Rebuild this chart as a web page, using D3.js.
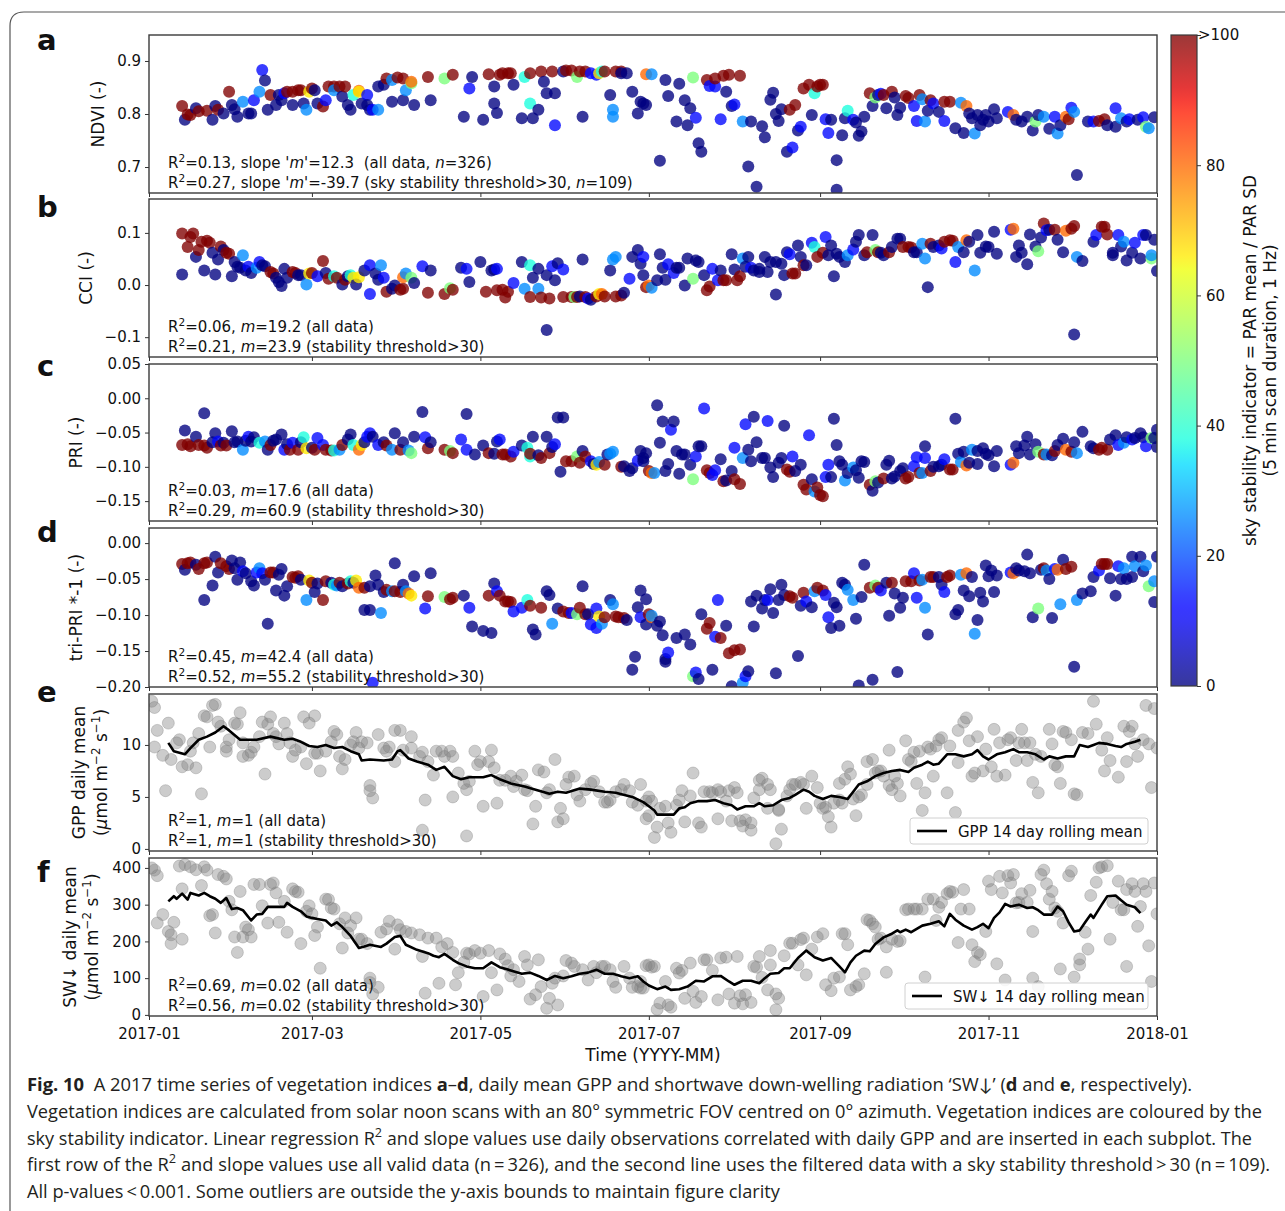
<!DOCTYPE html>
<html>
<head>
<meta charset="utf-8">
<script src="https://cdn.jsdelivr.net/npm/d3@7"></script>
<style>
body { margin: 0; background: #fff; }
text { font-family: "DejaVu Sans", sans-serif; fill: #111; }
.pre { white-space: pre; }
</style>
</head>
<body>
<svg id="fig" width="1285" height="1211"></svg>
<script>
// sky stability classes
var N = 0, B = 13, LB = 26, C = 38, G = 50, Y = 66, O = 80, R = 100;

// [day of 2017, value, sky stability]
var ndvi = [[12,.815,R],[13,.789,N],[14,.799,R],[15,.798,R],[17,.811,N],[18,.805,R],[21,.806,R],[23,.789,N],[24,.815,N],[25,.808,R],[27,.801,N],[29,.842,R],[30,.817,N],[31,.809,N],[32,.795,N],[34,.823,LB],[36,.801,N],[37,.801,N],[38,.826,B],[40,.842,LB],[41,.883,B],[42,.863,N],[43,.808,N],[44,.836,R],[46,.817,N],[47,.836,N],[48,.826,N],[49,.839,B],[50,.842,R],[52,.817,N],[52,.842,R],[54,.845,R],[55,.845,R],[56,.82,N],[57,.808,LB],[58,.842,Y],[59,.848,R],[60,.845,N],[61,.82,N],[63,.814,R],[64,.826,B],[65,.852,R],[67,.852,R],[67,.845,LB],[69,.852,R],[70,.833,N],[71,.852,R],[72,.817,N],[73,.808,N],[74,.836,C],[76,.844,O],[76,.842,Y],[77,.82,N],[79,.836,B],[79,.817,N],[80,.808,N],[81,.808,B],[83,.808,LB],[83,.852,N],[85,.855,N],[86,.867,R],[88,.864,LB],[88,.823,N],[90,.869,R],[92,.867,R],[92,.826,N],[93,.845,LB],[95,.858,G],[95,.861,O],[96,.817,N],[101,.870,R],[102,.826,N],[107,.867,G],[110,.874,R],[114,.795,N],[116,.848,B],[117,.870,N],[121,.789,N],[123,.875,R],[125,.852,N],[125,.82,N],[126,.802,N],[127,.874,R],[128,.877,R],[130,.877,R],[131,.877,R],[132,.855,N],[135,.792,N],[136,.870,C],[138,.82,C],[138,.877,R],[139,.792,N],[141,.808,N],[142,.88,R],[143,.861,N],[144,.839,N],[146,.88,R],[147,.779,B],[147,.839,N],[150,.88,N],[151,.882,R],[153,.882,R],[155,.870,G],[156,.88,R],[157,.795,N],[158,.88,R],[160,.877,B],[162,.874,B],[163,.877,Y],[164,.88,C],[165,.88,R],[167,.836,N],[168,.808,LB],[168,.795,LB],[169,.88,R],[171,.88,R],[171,.877,N],[173,.877,N],[175,.842,N],[177,.801,N],[178,.823,N],[179,.82,N],[180,.817,N],[180,.875,O],[182,.875,LB],[185,.712,N],[187,.864,N],[188,.834,N],[191,.786,N],[192,.857,N],[194,.826,N],[195,.779,N],[196,.811,N],[197,.869,G],[198,.793,B],[199,.745,N],[200,.729,N],[202,.864,R],[203,.853,B],[205,.852,B],[205,.867,R],[207,.79,B],[208,.872,R],[209,.842,N],[210,.874,R],[211,.815,N],[212,.818,B],[214,.872,R],[215,.786,LB],[217,.701,N],[218,.786,N],[220,.663,N],[222,.777,N],[223,.756,N],[225,.827,N],[226,.84,N],[227,.8,N],[228,.787,N],[229,.809,N],[231,.729,N],[233,.737,B],[232,.808,R],[234,.817,R],[235,.769,N],[236,.776,B],[237,.848,R],[239,.855,R],[240,.798,N],[241,.839,C],[242,.852,R],[243,.855,R],[244,.855,R],[245,.79,B],[246,.764,B],[247,.789,N],[249,.713,N],[249,.657,N],[251,.76,N],[252,.792,N],[253,.806,C],[255,.789,B],[256,.784,N],[257,.759,N],[258,.767,N],[259,.795,N],[261,.839,R],[262,.815,N],[263,.831,G],[264,.836,N],[265,.838,B],[266,.836,R],[267,.811,N],[269,.842,R],[270,.831,N],[271,.798,N],[272,.812,N],[274,.834,R],[275,.83,R],[277,.815,B],[278,.787,B],[279,.836,R],[280,.828,LB],[281,.786,LB],[282,.806,N],[283,.826,R],[284,.82,B],[286,.804,N],[288,.787,B],[288,.823,R],[290,.823,R],[292,.773,N],[294,.821,LB],[295,.764,N],[296,.815,O],[297,.801,N],[298,.792,N],[299,.763,LB],[300,.798,N],[301,.779,N],[302,.789,N],[303,.798,N],[304,.786,N],[306,.809,N],[307,.792,N],[311,.804,B],[313,.798,O],[314,.789,N],[316,.786,N],[318,.795,N],[320,.769,N],[321,.786,G],[322,.798,N],[324,.795,LB],[326,.772,N],[328,.795,B],[329,.763,LB],[330,.779,N],[332,.795,O],[333,.79,R],[334,.812,B],[335,.804,LB],[336,.685,N],[340,.786,N],[342,.786,B],[344,.787,R],[346,.79,R],[347,.779,N],[350,.776,N],[350,.811,B],[352,.792,LB],[354,.786,N],[355,.79,B],[358,.789,N],[360,.794,B],[361,.776,G],[362,.773,LB],[364,.794,N]];

var cci = [[12,.099,R],[12,.02,N],[14,.073,R],[15,.092,R],[16,.099,R],[17,.054,N],[18,.067,R],[19,.083,R],[20,.028,N],[21,.085,R],[22,.081,R],[23,.062,N],[24,.02,N],[25,.049,N],[26,.074,R],[27,.067,N],[28,.062,R],[29,.06,R],[30,.017,N],[31,.044,N],[32,.035,N],[33,.033,N],[34,.057,LB],[35,.028,N],[36,.035,B],[37,.023,N],[39,.033,LB],[40,.044,B],[41,.038,N],[42,.036,N],[44,.025,R],[45,.022,R],[46,.014,N],[47,.006,N],[48,-.002,N],[49,.031,N],[50,.014,N],[52,.025,R],[53,.023,R],[54,.019,N],[55,.019,N],[57,.001,LB],[58,.022,Y],[59,.023,R],[61,.017,B],[63,.046,R],[64,.023,N],[65,.012,R],[67,.017,C],[68,.014,R],[70,.001,N],[71,.01,R],[72,.017,N],[73,.019,C],[74,.014,Y],[75,.001,N],[76,.015,Y],[78,.028,N],[80,-.017,B],[80,.038,B],[82,.022,N],[83,.01,N],[84,.038,LB],[85,.014,B],[86,-.013,R],[88,-.007,N],[89,-.001,N],[91,-.009,R],[92,-.007,R],[92,.015,O],[93,.022,LB],[95,.014,G],[96,.004,N],[99,.036,B],[101,-.015,R],[102,.028,N],[107,-.017,R],[109,-.006,G],[110,-.009,R],[113,.033,N],[115,.031,B],[116,.006,N],[120,.044,N],[122,-.013,R],[124,.028,N],[125,.03,N],[126,.031,B],[126,-.01,R],[128,-.009,R],[129,-.024,R],[130,-.013,R],[132,.004,B],[135,.044,N],[136,-.007,LB],[138,.038,C],[138,-.023,R],[139,.014,N],[141,.031,N],[141,-.007,LB],[142,-.024,R],[144,-.086,N],[144,.019,N],[145,-.026,R],[146,.036,B],[147,.009,N],[148,.042,N],[150,.03,B],[150,-.023,R],[153,-.023,R],[154,-.023,G],[155,-.023,R],[156,-.022,N],[157,.049,N],[158,-.023,R],[159,-.026,B],[160,-.028,N],[162,-.022,R],[163,-.017,Y],[164,-.017,O],[165,-.022,R],[167,.028,N],[168,.049,LB],[169,.054,LB],[169,-.022,R],[171,-.02,R],[172,-.015,N],[174,.012,B],[175,.054,N],[177,.067,N],[178,.041,N],[179,.054,B],[179,.019,N],[180,-.004,R],[181,-.001,O],[182,-.005,LB],[184,.009,N],[185,.059,N],[186,.033,N],[187,.01,N],[188,.04,B],[190,.023,B],[191,.033,N],[192,.033,N],[194,-.001,N],[195,.051,N],[197,.012,G],[198,.047,N],[199,.044,N],[201,.019,N],[202,-.01,R],[203,-.003,R],[204,.031,B],[206,.009,B],[207,.028,N],[208,.009,R],[209,.009,R],[211,.059,N],[212,.03,N],[213,.009,R],[214,.017,R],[215,.051,LB],[216,.035,N],[217,.054,N],[218,.033,B],[219,.028,N],[221,.031,N],[221,.025,N],[223,.054,N],[224,.025,N],[225,.044,N],[227,-.018,N],[227,.044,N],[229,.041,N],[230,.019,N],[231,.063,N],[232,.059,B],[233,.022,R],[234,.022,R],[235,.076,N],[236,.054,N],[237,.038,R],[238,.038,N],[240,.081,B],[241,.073,C],[242,.054,R],[244,.062,R],[245,.092,B],[246,.057,N],[247,.076,N],[248,.017,N],[249,.06,N],[250,.054,N],[252,.044,N],[253,.057,LB],[255,.068,B],[256,.083,N],[257,.096,N],[259,.057,N],[260,.063,R],[262,.096,N],[263,.067,G],[264,.063,R],[265,.062,N],[266,.057,N],[268,.063,R],[269,.073,N],[271,.089,N],[272,.089,N],[273,.073,R],[275,.073,R],[276,.072,R],[277,.063,N],[278,.063,N],[280,.079,LB],[281,.051,LB],[282,-.004,N],[283,.079,R],[284,.073,N],[286,.076,N],[287,.07,B],[288,.083,R],[290,.086,R],[291,.085,R],[292,.044,B],[293,.073,LB],[295,.063,N],[296,.086,O],[297,.083,N],[299,.028,LB],[300,.096,N],[301,.062,N],[303,.074,N],[304,.073,N],[306,.102,N],[307,.06,N],[312,.106,B],[313,.108,O],[314,.054,N],[315,.076,N],[316,.062,N],[318,.04,N],[319,.097,N],[321,.074,N],[322,.065,G],[323,.091,N],[324,.118,R],[325,.105,B],[326,.106,N],[328,.106,R],[329,.087,N],[331,.063,N],[332,.104,O],[334,.108,R],[335,.113,R],[335,-.095,N],[336,.054,LB],[338,.046,N],[342,.083,N],[343,.096,B],[345,.112,R],[346,.112,R],[347,.097,R],[349,.057,N],[349,.062,N],[351,.096,B],[352,.074,N],[353,.083,LB],[354,.047,N],[356,.062,N],[357,.081,B],[359,.051,N],[360,.096,B],[361,.096,N],[363,.051,G],[363,.057,LB],[364,.087,N],[365,.027,N]];

var pri = [[12,-.068,R],[13,-.047,N],[14,-.067,R],[15,-.07,R],[17,-.056,N],[18,-.068,R],[20,-.022,N],[20,-.069,R],[21,-.072,R],[23,-.064,N],[24,-.051,N],[25,-.063,B],[26,-.069,R],[27,-.065,N],[28,-.069,R],[30,-.048,N],[31,-.064,N],[32,-.063,N],[34,-.075,LB],[35,-.062,N],[36,-.056,B],[37,-.063,N],[38,-.057,N],[40,-.065,C],[42,-.063,LB],[43,-.075,N],[44,-.068,R],[45,-.062,N],[46,-.06,N],[48,-.053,N],[49,-.075,B],[50,-.067,N],[51,-.075,R],[52,-.065,B],[54,-.075,R],[55,-.064,N],[56,-.057,C],[57,-.073,Y],[59,-.072,N],[60,-.075,R],[61,-.058,B],[63,-.068,B],[64,-.075,R],[66,-.076,R],[67,-.076,C],[69,-.075,LB],[70,-.068,R],[72,-.06,N],[73,-.053,N],[74,-.068,C],[76,-.075,O],[77,-.068,Y],[78,-.064,N],[79,-.056,B],[80,-.051,B],[81,-.056,N],[83,-.068,B],[85,-.064,N],[86,-.069,R],[88,-.075,LB],[89,-.051,N],[91,-.075,R],[92,-.064,N],[94,-.076,LB],[95,-.08,G],[96,-.056,N],[99,-.02,N],[100,-.057,B],[101,-.073,R],[102,-.064,N],[107,-.075,R],[109,-.077,G],[110,-.08,R],[113,-.06,B],[115,-.023,N],[115,-.075,B],[118,-.082,N],[121,-.069,N],[123,-.08,R],[125,-.081,N],[126,-.063,N],[127,-.06,B],[128,-.082,R],[129,-.082,R],[131,-.085,R],[132,-.078,B],[135,-.069,N],[137,-.072,C],[138,-.085,C],[138,-.081,R],[139,-.056,N],[141,-.083,N],[142,-.087,R],[144,-.056,N],[145,-.08,R],[146,-.071,N],[147,-.067,B],[148,-.028,N],[149,-.107,N],[150,-.028,N],[151,-.092,R],[153,-.092,R],[155,-.085,G],[156,-.094,R],[157,-.077,N],[158,-.085,R],[160,-.092,B],[161,-.096,N],[162,-.097,Y],[163,-.093,LB],[165,-.097,R],[166,-.082,N],[167,-.081,LB],[168,-.078,LB],[171,-.1,R],[172,-.099,N],[174,-.106,N],[175,-.102,N],[177,-.091,B],[178,-.077,N],[179,-.087,N],[179,-.092,N],[180,-.08,N],[181,-.106,R],[182,-.109,O],[183,-.109,LB],[184,-.01,N],[185,-.065,N],[186,-.034,N],[187,-.106,N],[188,-.096,N],[189,-.046,B],[190,-.034,N],[191,-.077,N],[192,-.11,N],[193,-.082,N],[194,-.082,N],[196,-.097,N],[197,-.118,G],[198,-.085,B],[199,-.07,N],[200,-.07,N],[201,-.015,B],[202,-.105,R],[203,-.109,R],[204,-.112,B],[205,-.105,B],[207,-.089,N],[208,-.121,R],[209,-.12,N],[211,-.106,N],[212,-.118,R],[212,-.072,B],[214,-.125,R],[215,-.087,LB],[216,-.038,B],[217,-.075,N],[218,-.092,N],[219,-.027,N],[220,-.064,N],[222,-.087,N],[223,-.087,N],[224,-.033,B],[225,-.101,N],[226,-.115,N],[228,-.094,N],[229,-.087,N],[230,-.04,N],[231,-.104,R],[232,-.107,R],[233,-.085,B],[234,-.106,N],[236,-.097,N],[237,-.126,R],[238,-.133,R],[239,-.054,B],[240,-.118,N],[241,-.136,LB],[242,-.13,R],[243,-.141,R],[244,-.143,R],[245,-.115,B],[246,-.097,B],[247,-.115,N],[248,-.03,N],[249,-.068,N],[250,-.092,N],[251,-.097,N],[252,-.12,LB],[253,-.109,N],[255,-.101,LB],[256,-.105,N],[257,-.116,N],[258,-.092,N],[259,-.093,N],[261,-.126,R],[262,-.135,N],[263,-.121,G],[264,-.123,N],[266,-.117,R],[267,-.097,N],[268,-.091,N],[269,-.117,N],[270,-.114,N],[272,-.106,N],[273,-.102,N],[274,-.117,R],[275,-.115,R],[277,-.099,B],[278,-.086,B],[279,-.109,R],[280,-.109,LB],[281,-.07,N],[281,-.087,B],[283,-.106,R],[284,-.1,N],[286,-.099,N],[287,-.097,N],[288,-.089,B],[290,-.104,R],[291,-.104,R],[292,-.03,N],[293,-.081,N],[294,-.093,LB],[295,-.078,N],[296,-.098,O],[297,-.094,N],[298,-.075,LB],[300,-.077,N],[300,-.096,N],[302,-.073,N],[303,-.081,N],[304,-.083,N],[306,-.099,N],[307,-.077,N],[312,-.097,B],[313,-.094,O],[314,-.07,N],[315,-.08,N],[317,-.069,N],[318,-.056,N],[319,-.082,N],[321,-.067,N],[322,-.078,G],[324,-.082,R],[325,-.082,LB],[327,-.083,N],[328,-.077,R],[329,-.068,N],[331,-.059,N],[332,-.075,O],[334,-.078,R],[335,-.064,N],[336,-.08,LB],[338,-.049,N],[341,-.07,N],[342,-.073,N],[344,-.075,R],[345,-.072,R],[347,-.075,R],[348,-.06,N],[350,-.054,N],[351,-.068,B],[353,-.065,LB],[354,-.057,N],[356,-.06,B],[357,-.058,N],[359,-.051,N],[360,-.057,N],[361,-.07,B],[363,-.058,G],[364,-.058,N],[365,-.071,N],[365,-.046,N]];

var triPri = [[12,-.029,R],[13,-.037,N],[14,-.028,R],[15,-.027,R],[17,-.03,N],[18,-.036,R],[20,-.079,N],[20,-.028,R],[21,-.027,R],[23,-.059,N],[24,-.019,N],[25,-.041,N],[26,-.028,R],[28,-.032,R],[29,-.036,R],[30,-.024,N],[31,-.035,N],[32,-.051,N],[33,-.027,N],[34,-.039,B],[35,-.042,N],[37,-.053,N],[38,-.059,N],[39,-.041,B],[40,-.035,LB],[41,-.042,B],[42,-.051,N],[43,-.112,N],[44,-.041,R],[45,-.041,R],[46,-.066,N],[47,-.044,N],[48,-.036,N],[49,-.073,N],[50,-.06,N],[52,-.047,R],[53,-.048,R],[54,-.046,R],[55,-.051,N],[57,-.079,LB],[58,-.052,Y],[59,-.055,R],[60,-.068,N],[61,-.056,N],[63,-.079,R],[64,-.053,R],[66,-.055,N],[67,-.058,C],[68,-.059,LB],[69,-.055,R],[70,-.06,N],[72,-.056,R],[73,-.053,C],[74,-.055,N],[75,-.052,Y],[76,-.062,O],[78,-.062,R],[78,-.093,N],[80,-.06,N],[80,-.093,N],[81,-.194,B],[82,-.045,N],[83,-.058,N],[84,-.097,LB],[85,-.068,N],[86,-.065,R],[88,-.067,LB],[89,-.028,N],[89,-.067,R],[91,-.068,R],[92,-.058,N],[93,-.067,LB],[94,-.07,O],[95,-.073,Y],[96,-.046,N],[100,-.091,B],[101,-.074,R],[102,-.042,N],[107,-.075,G],[109,-.078,R],[110,-.076,R],[114,-.073,N],[116,-.09,B],[117,-.116,N],[121,-.122,N],[123,-.073,R],[124,-.125,N],[125,-.056,N],[126,-.067,B],[127,-.073,R],[129,-.081,R],[130,-.081,R],[131,-.082,R],[132,-.095,B],[135,-.09,B],[137,-.079,C],[138,-.087,R],[139,-.12,N],[140,-.127,N],[142,-.09,R],[144,-.067,N],[145,-.072,N],[146,-.112,LB],[148,-.091,N],[150,-.095,R],[152,-.097,R],[153,-.097,B],[155,-.099,G],[156,-.09,R],[157,-.06,N],[158,-.099,R],[159,-.099,N],[160,-.113,B],[162,-.091,B],[162,-.118,B],[163,-.102,Y],[164,-.112,LB],[165,-.103,R],[167,-.079,N],[168,-.085,LB],[169,-.102,R],[170,-.103,R],[172,-.104,R],[173,-.107,N],[175,-.176,N],[176,-.158,N],[177,-.089,N],[178,-.066,N],[178,-.103,B],[180,-.113,N],[180,-.078,N],[181,-.099,R],[182,-.103,O],[182,-.101,LB],[184,-.115,N],[185,-.109,N],[186,-.128,N],[187,-.165,N],[187,-.161,N],[188,-.152,B],[191,-.132,N],[194,-.127,N],[196,-.141,N],[197,-.185,G],[198,-.18,B],[199,-.189,N],[200,-.099,N],[202,-.119,R],[203,-.111,R],[204,-.176,N],[205,-.13,B],[206,-.079,B],[207,-.132,R],[209,-.115,N],[210,-.153,R],[211,-.199,N],[212,-.149,R],[214,-.148,R],[215,-.194,LB],[216,-.185,B],[217,-.178,N],[218,-.081,N],[219,-.116,N],[220,-.073,N],[222,-.091,N],[223,-.079,N],[224,-.079,B],[225,-.064,N],[226,-.097,N],[227,-.181,N],[228,-.079,N],[229,-.058,N],[230,-.072,N],[232,-.074,R],[233,-.076,R],[235,-.157,N],[236,-.087,N],[237,-.069,R],[238,-.081,B],[240,-.089,N],[241,-.067,LB],[242,-.062,R],[244,-.066,R],[245,-.072,B],[246,-.103,B],[247,-.118,N],[248,-.083,N],[249,-.089,N],[250,-.115,N],[251,-.055,N],[252,-.058,N],[253,-.065,LB],[255,-.079,LB],[256,-.105,N],[257,-.198,N],[258,-.075,N],[259,-.03,N],[261,-.062,R],[262,-.19,N],[263,-.059,G],[264,-.062,R],[265,-.066,B],[267,-.055,N],[268,-.101,N],[269,-.055,R],[270,-.07,N],[271,-.179,N],[272,-.09,N],[273,-.076,N],[274,-.053,R],[276,-.053,R],[277,-.042,B],[278,-.076,B],[279,-.052,R],[280,-.051,LB],[281,-.09,LB],[282,-.127,N],[283,-.047,R],[284,-.047,R],[286,-.047,N],[287,-.058,N],[288,-.068,B],[289,-.047,R],[290,-.045,R],[292,-.099,N],[293,-.093,N],[294,-.044,LB],[295,-.066,N],[296,-.042,O],[297,-.074,N],[298,-.047,N],[299,-.126,LB],[300,-.107,N],[301,-.069,N],[302,-.081,N],[303,-.031,N],[304,-.046,N],[305,-.038,N],[306,-.068,N],[307,-.045,N],[312,-.041,B],[313,-.042,O],[314,-.035,N],[315,-.038,N],[317,-.039,N],[318,-.016,N],[319,-.042,N],[320,-.103,N],[322,-.091,G],[323,-.037,N],[324,-.035,R],[325,-.038,LB],[326,-.05,N],[327,-.104,N],[328,-.036,B],[329,-.037,O],[330,-.085,LB],[331,-.023,N],[332,-.036,R],[334,-.033,R],[335,-.172,N],[336,-.079,LB],[338,-.07,N],[341,-.067,N],[342,-.047,N],[344,-.038,B],[345,-.029,R],[346,-.029,R],[347,-.029,R],[348,-.049,N],[350,-.073,N],[351,-.032,B],[352,-.05,N],[353,-.035,LB],[354,-.05,N],[356,-.047,N],[356,-.019,N],[357,-.032,LB],[359,-.019,N],[360,-.039,N],[361,-.031,LB],[362,-.06,G],[364,-.053,LB],[364,-.082,N],[365,-.019,N]];

// [day, daily mean]
var gpp = [[1,14.2],[2,13.6],[3,11.4],[2,9.8],[5,9.0],[7,12.1],[8,8.6],[6,5.6],[10,10.2],[11,10.5],[12,7.9],[14,8.1],[15,9.4],[16,10.2],[17,7.8],[18,11.1],[19,5.3],[20,12.8],[21,12.7],[22,9.8],[23,13.8],[24,13.9],[25,12.2],[26,11.8],[28,9.8],[28,9.4],[29,10.5],[31,12.1],[32,12],[33,13.1],[34,10.2],[34,8.9],[36,9],[37,9.3],[38,9.8],[40,10.8],[41,12.2],[42,7.2],[43,12],[44,12.7],[45,11.1],[46,10.8],[47,10.1],[49,12.1],[50,11.1],[51,10.2],[52,8.9],[53,9.5],[55,9.8],[56,12.7],[57,8.2],[58,12.1],[60,12.8],[60,9.2],[61,9.2],[62,7.5],[64,9.4],[66,10.3],[67,11.3],[68,11],[69,8.9],[70,7.7],[71,8.6],[73,10],[74,10.3],[75,11.2],[76,9.7],[77,10.3],[79,10.2],[80,5.6],[80,6.1],[81,4.9],[83,11],[85,9.7],[86,9.4],[87,9.8],[89,8.4],[89,11.4],[91,11.4],[92,9.5],[95,10.8],[95,9.7],[98,8.9],[99,9.3],[99,1.8],[100,4.7],[101,8.4],[103,7.1],[104,9.4],[106,9.4],[107,8.9],[109,9.4],[110,5],[110,8.9],[112,7.3],[114,6.3],[115,5.7],[115,1.25],[116,6.5],[118,9.4],[119,8.1],[120,8.4],[121,4.1],[123,8.4],[124,9.5],[125,7.8],[126,4.4],[127,6.6],[129,6.6],[131,7],[132,6],[133,6.5],[135,7.1],[136,5.7],[137,5.6],[139,2.4],[140,4.1],[141,7.6],[143,7.4],[144,5.4],[145,5.7],[147,8.6],[148,2.6],[149,3.9],[150,2.9],[151,6.2],[152,6.9],[154,7],[155,5.2],[156,4.6],[158,5.7],[160,6.3],[161,6.5],[163,5.5],[165,4.5],[166,4.5],[167,4.7],[169,5.5],[171,5.7],[172,6.2],[174,5.6],[175,4.5],[177,4.2],[178,6.2],[180,4.6],[181,3.2],[181,5],[180,2.9],[182,4.6],[183,1.1],[184,2.1],[185,3.9],[187,4.1],[188,2.5],[189,1.6],[191,4.2],[192,4.7],[193,5.6],[194,2.6],[196,5.1],[197,7.3],[199,2.5],[200,2.1],[201,5.5],[203,5.5],[204,5.4],[206,5.7],[206,2.9],[207,5.5],[209,4.6],[210,5.6],[211,2.7],[212,5.9],[213,5.4],[214,2.7],[215,2.2],[216,2.8],[218,2.5],[218,1.8],[219,4.9],[221,5.7],[221,6.6],[222,6.8],[224,3.9],[224,6.2],[225,5.7],[227,0.5],[228,3.7],[228,3.8],[229,1.9],[231,5.1],[232,5.7],[233,6.2],[234,6.2],[236,6.4],[237,6.2],[238,3.9],[240,7],[242,5.9],[243,4.4],[244,3.9],[245,4],[246,3.1],[247,2.1],[248,4.4],[250,4.7],[250,6.3],[251,4.4],[252,6.7],[253,7.9],[254,7.2],[255,4.8],[256,3.2],[257,5],[258,5.2],[260,6.2],[260,8.4],[262,8.6],[263,7.3],[264,7.5],[265,7.5],[266,7],[268,6.1],[268,9.5],[269,5.7],[270,7],[271,6.3],[272,5.1],[274,10.4],[275,8.6],[276,8.4],[277,9.3],[278,6.3],[279,9.4],[280,3.7],[281,5.4],[282,9.8],[283,9.6],[284,7],[285,9.9],[286,10.5],[287,10.7],[289,5.4],[290,9.9],[292,3.5],[293,8.3],[293,11.4],[295,12.2],[296,12.6],[297,10.4],[298,7],[299,7.3],[300,10.8],[302,7.5],[303,9.6],[305,7.9],[306,11.5],[307,7],[308,10.2],[310,7.1],[311,10.5],[312,10.7],[314,8.5],[315,10.2],[316,11.5],[317,10.2],[318,8.5],[319,10.2],[320,6.4],[321,9.1],[322,5.4],[323,8.9],[326,11.5],[327,10.1],[328,8.1],[329,7.9],[330,6.3],[331,11.3],[332,11.2],[334,10.5],[335,5.3],[336,5.2],[338,11.2],[340,11.1],[342,14.2],[343,12],[345,9.5],[346,7.5],[347,10.7],[348,8.5],[351,6.9],[353,11.8],[354,8.4],[355,11.3],[356,11.8],[357,10.1],[358,8.9],[360,10.5],[361,13.8],[362,10.1],[363,5.9],[364,13.5],[365,9.7]];

var gppMean = [[7,10.2],[9,9.4],[13,9.1],[15,9.7],[18,10.5],[21,10.8],[24,11.2],[27,11.8],[29,11.4],[33,10.5],[36,10.5],[39,10.5],[44,10.8],[49,10.5],[52,10.6],[55,10.3],[58,9.9],[61,9.8],[64,10],[67,9.7],[70,9.8],[73,9.4],[76,9.1],[77,8.5],[80,8.6],[85,8.5],[88,8.6],[90,9.4],[91,9.5],[94,8.7],[97,8.4],[101,8.1],[104,7.6],[107,7.9],[110,7],[113,6.7],[116,6.9],[121,6.9],[124,7.1],[127,6.7],[131,6.3],[136,6],[140,5.7],[145,5.3],[148,5.5],[151,5.4],[156,5.8],[160,5.7],[165,5.5],[169,5.4],[175,5],[179,4.5],[181,4.1],[183,3.7],[184,3.3],[187,3.3],[190,3.3],[192,3.9],[194,4],[196,4.4],[199,4.6],[202,4.6],[205,4.7],[208,4.4],[211,4.2],[213,3.8],[216,4.1],[219,4.1],[221,4.4],[223,4.1],[226,4.2],[229,4.7],[232,4.9],[234,5.2],[237,5.7],[239,5.5],[241,5.1],[244,4.8],[247,5.1],[250,5],[253,4.8],[255,5.5],[257,6.2],[260,6.5],[263,7],[266,7.3],[269,7.5],[272,7.6],[275,7.4],[277,7.8],[280,8.1],[282,8.4],[284,8.1],[286,8.2],[289,9.1],[292,9.1],[295,8.9],[298,9.1],[300,9.5],[302,8.9],[304,8.6],[307,9.1],[310,9.3],[313,9.6],[315,9.3],[318,9.3],[321,9.1],[324,8.6],[326,8.9],[329,8.7],[332,8.9],[335,8.9],[337,10],[340,9.8],[342,10],[344,10.2],[347,10.1],[350,9.9],[352,9.8],[354,10.1],[357,10.3],[359,10.5]];

var sw = [[1,400],[2,394],[3,379],[3,250],[5,273],[7,227],[8,218],[8,194],[9,252],[12,206],[12,343],[11,405],[13,409],[15,403],[17,395],[19,352],[20,403],[21,394],[22,270],[23,273],[24,223],[25,382],[27,377],[28,370],[29,309],[30,286],[31,212],[32,170],[33,336],[34,212],[35,239],[36,232],[37,212],[38,355],[40,355],[41,297],[43,250],[44,355],[45,359],[46,332],[47,252],[49,309],[50,225],[52,343],[53,336],[54,334],[55,194],[57,282],[58,297],[59,275],[60,216],[61,239],[62,127],[64,315],[65,314],[66,291],[67,288],[69,248],[70,182],[71,264],[72,223],[73,243],[75,264],[76,206],[77,206],[79,194],[80,100],[80,88],[81,57],[83,75],[84,225],[86,234],[87,255],[89,179],[90,245],[91,232],[93,227],[95,223],[98,218],[99,159],[100,59],[101,209],[104,209],[105,86],[106,185],[108,194],[110,170],[111,82],[112,115],[114,143],[115,168],[116,166],[118,175],[120,168],[121,50],[123,175],[124,115],[126,68],[127,166],[129,152],[130,134],[131,106],[132,123],[134,91],[136,159],[137,136],[138,43],[140,55],[141,150],[142,77],[144,18],[145,45],[146,86],[147,100],[148,27],[150,106],[151,148],[153,141],[154,132],[157,123],[159,95],[161,132],[162,115],[164,132],[165,132],[167,123],[168,91],[169,75],[172,132],[174,100],[175,75],[177,77],[178,91],[181,136],[183,132],[178,73],[179,73],[180,134],[182,130],[184,15],[185,32],[187,91],[188,27],[189,21],[191,127],[192,114],[193,121],[194,45],[196,141],[197,64],[198,34],[200,50],[201,150],[202,150],[204,121],[206,41],[207,155],[209,157],[210,57],[212,32],[213,159],[214,52],[215,30],[216,55],[218,34],[219,132],[220,130],[221,159],[222,102],[224,68],[225,136],[225,175],[227,14],[227,57],[228,45],[230,161],[232,195],[233,195],[235,136],[236,205],[237,209],[238,109],[240,179],[242,212],[244,221],[245,82],[247,66],[248,100],[250,103],[251,221],[252,221],[253,191],[254,68],[256,77],[257,82],[259,112],[260,259],[261,257],[262,248],[263,239],[264,206],[265,209],[267,185],[267,116],[269,206],[271,200],[272,202],[274,286],[275,288],[277,288],[278,288],[280,288],[281,103],[282,315],[284,315],[285,257],[286,293],[287,306],[289,330],[290,336],[291,334],[293,197],[294,288],[295,341],[297,288],[298,191],[299,145],[300,170],[301,164],[303,227],[304,364],[305,341],[307,139],[308,377],[309,332],[310,95],[311,379],[312,359],[313,382],[314,305],[315,306],[316,330],[318,306],[319,339],[320,227],[320,100],[322,77],[323,382],[324,394],[325,357],[326,315],[327,336],[328,291],[329,282],[330,125],[331,250],[333,379],[334,391],[335,103],[337,136],[337,152],[339,225],[340,179],[341,325],[343,361],[344,400],[345,403],[347,406],[348,206],[349,306],[351,364],[352,286],[353,286],[354,132],[354,341],[356,357],[357,336],[358,241],[359,295],[360,357],[361,336],[362,188],[363,91],[364,359],[365,275]];

var swMean = [[7,309],[9,323],[10,316],[12,330],[14,314],[15,332],[18,325],[20,332],[22,323],[24,316],[26,305],[28,318],[30,288],[32,291],[34,285],[37,257],[39,273],[41,275],[43,294],[46,294],[49,294],[50,305],[52,294],[55,282],[57,268],[59,264],[61,261],[64,257],[66,243],[68,252],[70,239],[73,215],[76,182],[78,186],[80,191],[84,185],[86,194],[89,212],[91,215],[93,191],[97,177],[101,168],[103,161],[105,157],[107,166],[110,150],[112,141],[115,132],[118,127],[121,127],[124,143],[127,130],[131,121],[135,112],[138,115],[141,106],[144,95],[147,106],[150,100],[153,105],[156,112],[159,115],[162,123],[165,112],[168,112],[171,105],[174,100],[177,105],[179,91],[181,80],[184,70],[187,77],[189,68],[192,70],[195,77],[198,93],[201,91],[204,105],[207,106],[210,91],[212,82],[215,93],[218,93],[221,86],[223,100],[225,112],[228,114],[230,127],[232,127],[235,155],[238,175],[241,157],[244,148],[247,155],[250,132],[252,116],[254,143],[256,161],[259,175],[261,173],[263,193],[266,211],[269,221],[271,230],[272,225],[274,232],[276,225],[278,234],[280,243],[283,248],[286,255],[288,241],[290,275],[292,259],[295,243],[298,232],[300,239],[302,248],[304,236],[306,264],[308,279],[310,302],[312,295],[315,300],[318,291],[320,293],[322,285],[324,273],[327,273],[329,295],[331,282],[333,252],[335,227],[337,230],[339,252],[341,273],[342,264],[345,300],[347,323],[350,325],[352,312],[354,300],[357,293],[359,277]];

var monthTicks = ["2017-01", "2017-03", "2017-05", "2017-07", "2017-09", "2017-11", "2018-01"];
var skyTicks = [0, 20, 40, 60, 80, 100];

//All the layout
var svg = d3.select("#fig");
var x0 = 149, x1 = 1157;
var parseMonth = d3.utcParse("%Y-%m");
var x = d3.scaleUtc()
  .domain([parseMonth("2017-01"), parseMonth("2018-01")])
  .range([x0, x1]);
function day(d) { return d3.utcDay.offset(parseMonth("2017-01"), d); }

// jet colour map, as matplotlib defines it
var jetR = d3.scaleLinear().domain([0, .35, .66, .89, 1]).range([0, 0, 1, 1, .5]).clamp(true);
var jetG = d3.scaleLinear().domain([0, .125, .375, .64, .91, 1]).range([0, 0, 1, 1, 0, 0]).clamp(true);
var jetB = d3.scaleLinear().domain([0, .11, .34, .65, 1]).range([.5, 1, 1, 0, 0]).clamp(true);
var skyScale = d3.scaleLinear().domain([0, 100]).range([0, 1]).clamp(true);
function jet(v) {
  var t = skyScale(v);
  return d3.rgb(255 * jetR(t), 255 * jetG(t), 255 * jetB(t)).formatHex();
}
var dotAlpha = 0.78;

var panels = [
  { key: "a", data: ndvi, top: 35, bottom: 193, domain: [0.651, 0.949], ticks: [0.7, 0.8, 0.9], fmt: ".1f",
    letterY: 50, ylab: [["NDVI (-)", 98]],
    notes: ["R^2=0.13, slope '_m_'=12.3  (all data, _n_=326)", "R^2=0.27, slope '_m_'=-39.7 (sky stability threshold>30, _n_=109)"] },
  { key: "b", data: cci, top: 199, bottom: 357, domain: [-0.138, 0.165], ticks: [-0.1, 0, 0.1], fmt: ".1f",
    letterY: 217, ylab: [["CCI (-)", 86]],
    notes: ["R^2=0.06, _m_=19.2 (all data)", "R^2=0.21, _m_=23.9 (stability threshold>30)"] },
  { key: "c", data: pri, top: 364, bottom: 521, domain: [-0.179, 0.05], ticks: [-0.15, -0.1, -0.05, 0, 0.05], fmt: ".2f",
    letterY: 376, ylab: [["PRI (-)", 76]],
    notes: ["R^2=0.03, _m_=17.6 (all data)", "R^2=0.29, _m_=60.9 (stability threshold>30)"] },
  { key: "d", data: triPri, top: 528, bottom: 687, domain: [-0.2, 0.021], ticks: [-0.2, -0.15, -0.1, -0.05, 0], fmt: ".2f",
    letterY: 542, ylab: [["tri-PRI *-1 (-)", 76]],
    notes: ["R^2=0.45, _m_=42.4 (all data)", "R^2=0.52, _m_=55.2 (stability threshold>30)"] },
  { key: "e", data: gpp, line: gppMean, legend: "GPP 14 day rolling mean", top: 694, bottom: 851, domain: [-0.2, 14.9], ticks: [0, 5, 10], fmt: "d",
    letterY: 702, ylab: [["GPP daily mean", 79], ["unit", 101]],
    notes: ["R^2=1, _m_=1 (all data)", "R^2=1, _m_=1 (stability threshold>30)"] },
  { key: "f", data: sw, line: swMean, legend: "SW\u2193 14 day rolling mean", top: 858, bottom: 1016, domain: [-3, 427], ticks: [0, 100, 200, 300, 400], fmt: "d",
    letterY: 882, ylab: [["SW\u2193 daily mean", 70], ["unit", 92]],
    notes: ["R^2=0.69, _m_=0.02 (all data)", "R^2=0.56, _m_=0.02 (stability threshold>30)"] }
];

// writes "R^2" as superscript and "_m_" in italics
function richText(sel, str) {
  str.split(/(\^2|_[^_]+_)/).forEach(function(part) {
    if (!part) return;
    if (part === "^2") {
      sel.append("tspan").attr("baseline-shift", "super").attr("font-size", "70%").text("2");
    } else if (part[0] === "_") {
      sel.append("tspan").attr("font-style", "italic").text(part.slice(1, -1));
    } else {
      sel.append("tspan").text(part);
    }
  });
}

function unitText(sel) {
  sel.append("tspan").text("(");
  sel.append("tspan").attr("font-style", "italic").text("\u03bc");
  sel.append("tspan").text("mol m");
  sel.append("tspan").attr("baseline-shift", "super").attr("font-size", "70%").text("\u22122");
  sel.append("tspan").text(" s");
  sel.append("tspan").attr("baseline-shift", "super").attr("font-size", "70%").text("\u22121");
  sel.append("tspan").text(")");
}

var defs = svg.append("defs");

panels.forEach(function(p, i) {
  var y = d3.scaleLinear().domain(p.domain).range([p.bottom, p.top]);
  var g = svg.append("g");

  defs.append("clipPath").attr("id", "clip-" + p.key)
    .append("rect").attr("x", x0).attr("y", p.top).attr("width", x1 - x0).attr("height", p.bottom - p.top);

  var plot = g.append("g").attr("clip-path", "url(#clip-" + p.key + ")");

  if (p.line) {
    plot.selectAll("circle")
      .data(p.data)
      .enter()
      .append("circle")
      .attr("cx", function(d) { return x(day(d[0])); })
      .attr("cy", function(d) { return y(d[1]); })
      .attr("r", 6)
      .attr("fill", "#7f7f7f")
      .attr("fill-opacity", 0.4)
      .attr("stroke", "#7f7f7f")
      .attr("stroke-opacity", 0.35);

    plot.append("path")
      .datum(p.line)
      .attr("fill", "none")
      .attr("stroke", "#000")
      .attr("stroke-width", 2.6)
      .attr("stroke-linejoin", "round")
      .attr("d", d3.line()
        .x(function(d) { return x(day(d[0])); })
        .y(function(d) { return y(d[1]); }));
  } else {
    plot.selectAll("circle")
      .data(p.data)
      .enter()
      .append("circle")
      .attr("cx", function(d) { return x(day(d[0])); })
      .attr("cy", function(d) { return y(d[1]); })
      .attr("r", 6)
      .attr("fill", function(d) { return jet(d[2]); })
      .attr("fill-opacity", dotAlpha);
  }

  // y axis
  var yAxis = g.append("g")
    .attr("transform", "translate(" + x0 + ",0)")
    .call(d3.axisLeft(y).tickValues(p.ticks).tickFormat(d3.format(p.fmt)).tickSize(4).tickPadding(4));
  yAxis.select(".domain").remove();
  yAxis.selectAll("text").attr("font-size", 15).attr("font-family", "DejaVu Sans").attr("fill", "#111");
  yAxis.selectAll("line").attr("stroke", "#333");

  // x axis, labels only on the last panel
  var xAxis = g.append("g")
    .attr("transform", "translate(0," + p.bottom + ")")
    .call(d3.axisBottom(x)
      .tickValues(monthTicks.map(parseMonth))
      .tickFormat(i === panels.length - 1 ? d3.utcFormat("%Y-%m") : "")
      .tickSize(4).tickPadding(8));
  xAxis.select(".domain").remove();
  xAxis.selectAll("text").attr("font-size", 15).attr("font-family", "DejaVu Sans").attr("fill", "#111");
  xAxis.selectAll("line").attr("stroke", "#333");

  // frame
  g.append("rect")
    .attr("x", x0).attr("y", p.top)
    .attr("width", x1 - x0).attr("height", p.bottom - p.top)
    .attr("fill", "none").attr("stroke", "#3a3a3a").attr("stroke-width", 1.4);

  // y label
  p.ylab.forEach(function(l) {
    var t = g.append("text")
      .attr("transform", "translate(" + l[1] + "," + (p.top + p.bottom) / 2 + ") rotate(-90)")
      .attr("text-anchor", "middle")
      .attr("dy", "0.35em")
      .attr("font-size", 17);
    if (l[0] === "unit") unitText(t); else t.text(l[0]);
  });

  // panel letter
  g.append("text")
    .attr("x", 37).attr("y", p.letterY)
    .attr("font-family", "Liberation Sans, Arial, sans-serif")
    .attr("font-weight", "bold")
    .attr("font-size", 29)
    .text(p.key);

  // regression notes
  p.notes.forEach(function(n, k) {
    var t = g.append("text")
      .attr("class", "pre")
      .attr("x", 168)
      .attr("y", p.bottom - (k === 0 ? 25 : 5))
      .attr("font-size", 15);
    richText(t, n);
  });

  // legend
  if (p.legend) {
    var lg = g.append("g").attr("transform", "translate(" + (p.key === "e" ? 910 : 905) + "," + (p.bottom - 33) + ")");
    var lw = p.key === "e" ? 238 : 243;
    lg.append("rect").attr("width", lw).attr("height", 26).attr("rx", 3)
      .attr("fill", "#fff").attr("fill-opacity", 0.85).attr("stroke", "#d0d0d0");
    lg.append("line").attr("x1", 7).attr("x2", 37).attr("y1", 13).attr("y2", 13)
      .attr("stroke", "#000").attr("stroke-width", 2.6);
    lg.append("text").attr("x", 48).attr("y", 18.5).attr("font-size", 15).text(p.legend);
  }
});

// time axis title
svg.append("text")
  .attr("x", (x0 + x1) / 2).attr("y", 1061)
  .attr("text-anchor", "middle")
  .attr("font-size", 17)
  .text("Time (YYYY-MM)");

/* ------------------------------------ Colour bar ------------------------------------ */
var cbTop = 35, cbBottom = 686, cbLeft = 1171, cbWidth = 26;
var grad = defs.append("linearGradient").attr("id", "jetgrad")
  .attr("x1", 0).attr("x2", 0).attr("y1", 1).attr("y2", 0);
d3.range(0, 101, 2).forEach(function(v) {
  grad.append("stop").attr("offset", v + "%").attr("stop-color", jet(v)).attr("stop-opacity", dotAlpha);
});
svg.append("rect")
  .attr("x", cbLeft).attr("y", cbTop).attr("width", cbWidth).attr("height", cbBottom - cbTop)
  .attr("fill", "url(#jetgrad)").attr("stroke", "#3a3a3a").attr("stroke-width", 1.2);

var cy = d3.scaleLinear().domain([0, 100]).range([cbBottom, cbTop]);
var cAxis = svg.append("g")
  .attr("transform", "translate(" + (cbLeft + cbWidth) + ",0)")
  .call(d3.axisRight(cy).tickValues(skyTicks)
    .tickFormat(function(d) { return d === 100 ? ">100" : d; })
    .tickSize(4).tickPadding(5));
cAxis.select(".domain").remove();
cAxis.selectAll("text").attr("font-size", 15).attr("font-family", "DejaVu Sans").attr("fill", "#111");
cAxis.selectAll(".tick").filter(function(d) { return d === 100; }).select("text").attr("x", 1);
cAxis.selectAll("line").attr("stroke", "#333");

svg.append("text")
  .attr("transform", "translate(1250," + (cbTop + cbBottom) / 2 + ") rotate(-90)")
  .attr("text-anchor", "middle").attr("dy", "0.35em").attr("font-size", 17)
  .text("sky stability indicator = PAR mean / PAR SD");
svg.append("text")
  .attr("transform", "translate(1270," + (cbTop + cbBottom) / 2 + ") rotate(-90)")
  .attr("text-anchor", "middle").attr("dy", "0.35em").attr("font-size", 17)
  .text("(5 min scan duration, 1 Hz)");

/* ------------------------------------ Frame and caption ------------------------------------ */
svg.append("path")
  .attr("d", "M10,1211 V26 Q10,12 24,12 H1285")
  .attr("fill", "none").attr("stroke", "#555").attr("stroke-width", 1.2);

var caption = [
  { y: 1091, w: 1165, parts: [["Fig. 10", "b"], ["  A 2017 time series of vegetation indices ", ""], ["a", "b"], ["\u2013", ""], ["d", "b"], [", daily mean GPP and shortwave down-welling radiation \u2018SW\u2193\u2019 (", ""], ["d", "b"], [" and ", ""], ["e", "b"], [", respectively).", ""]] },
  { y: 1118, w: 1235, parts: [["Vegetation indices are calculated from solar noon scans with an 80\u00b0 symmetric FOV centred on 0\u00b0 azimuth. Vegetation indices are coloured by the", ""]] },
  { y: 1145, w: 1225, parts: [["sky stability indicator. Linear regression R", ""], ["2", "s"], [" and slope values use daily observations correlated with daily GPP and are inserted in each subplot. The", ""]] },
  { y: 1171, w: 1243, parts: [["first row of the R", ""], ["2", "s"], [" and slope values use all valid data (n\u2009=\u2009326), and the second line uses the filtered data with a sky stability threshold\u2009>\u200930 (n\u2009=\u2009109).", ""]] },
  { y: 1198, w: 753, parts: [["All p-values\u2009<\u20090.001. Some outliers are outside the y-axis bounds to maintain figure clarity", ""]] }
];
caption.forEach(function(c) {
  var t = svg.append("text")
    .attr("class", "pre")
    .attr("x", 27).attr("y", c.y)
    .attr("font-size", 17.5)
    .attr("textLength", c.w)
    .attr("lengthAdjust", "spacingAndGlyphs")
    .style("font-family", "'Open Sans', Lato, sans-serif")
    .style("fill", "#231f20");
  c.parts.forEach(function(pt) {
    var s = t.append("tspan").text(pt[0]);
    if (pt[1] === "b") s.attr("font-weight", "bold");
    if (pt[1] === "s") s.attr("baseline-shift", "super").attr("font-size", "70%");
  });
});
</script>
</body>
</html>
